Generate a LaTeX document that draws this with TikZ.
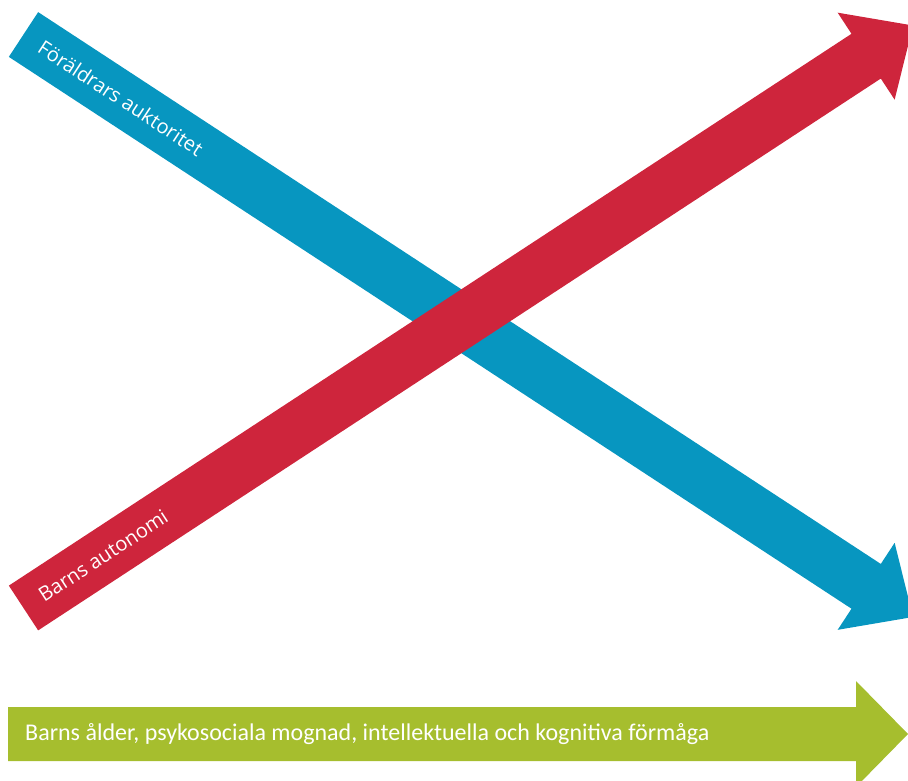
\documentclass[tikz,border=0pt]{standalone}
\usepackage{fontspec}
\setmainfont{Carlito}
\newfontfamily\opensans{Open Sans}
\usetikzlibrary{calc}
\definecolor{cblue}{RGB}{7,150,192}
\definecolor{cred}{RGB}{206,37,60}
\definecolor{cgreen}{RGB}{166,190,46}
\tikzset{
  lbl/.style={text=white, inner sep=0pt, anchor=west, font=\opensans\fontsize{20bp}{22bp}\selectfont},
  glbl/.style={text=white, inner sep=0pt, anchor=west, font=\fontsize{24bp}{26bp}\selectfont},
}
\begin{document}
\begin{tikzpicture}[x=1bp,y=-1bp]
\useasboundingbox (0,0) rectangle (908,781);
\begin{scope}
\clip (0,0) rectangle (908,781);
% blue arrow
\coordinate (bT) at (23.5,34.5);
\coordinate (bP) at (913,617);
\coordinate (bH) at ($(bP)!56bp!(bT)$);
\fill[cblue] ($(bT)!26.75bp!90:(bP)$) -- ($(bH)!26.75bp!-90:(bT)$) -- ($(bH)!52bp!-90:(bT)$) -- (bP)
  -- ($(bH)!52bp!90:(bT)$) -- ($(bH)!26.75bp!90:(bT)$) -- ($(bT)!26.75bp!-90:(bP)$) -- cycle;
% red arrow
\coordinate (rT) at (23.5,608);
\coordinate (rP) at (913,25.5);
\coordinate (rH) at ($(rP)!56bp!(rT)$);
\fill[cred] ($(rT)!26.75bp!90:(rP)$) -- ($(rH)!26.75bp!-90:(rT)$) -- ($(rH)!52bp!-90:(rT)$) -- (rP)
  -- ($(rH)!52bp!90:(rT)$) -- ($(rH)!26.75bp!90:(rT)$) -- ($(rT)!26.75bp!-90:(rP)$) -- cycle;
% green arrow
\coordinate (gT) at (8,734);
\coordinate (gP) at (908,734);
\fill[cgreen] (8,707) -- (856,707) -- (856,681) -- (gP) -- (856,787) -- (856,761) -- (8,761) -- cycle;
\end{scope}
\node[lbl, rotate=-33.2] (bl) at ($(bT)!20bp!(bP)$) {Föräldrars auktoritet};
\node[lbl, rotate=33.2] (rl) at ($(rT)!20bp!(rP)$) {Barns autonomi};
\node[glbl] (gl) at (25,734) {Barns ålder, psykosociala mognad, intellektuella och kognitiva förmåga};
\end{tikzpicture}
\end{document}
